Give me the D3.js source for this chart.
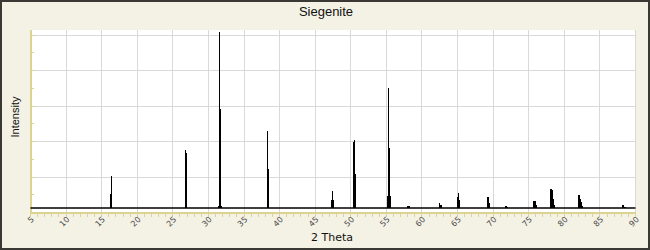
<!DOCTYPE html>
<html>
<head>
<meta charset="utf-8">
<script src="https://cdn.jsdelivr.net/npm/d3@7"></script>
<style>
  body { margin: 0; background: #f4f1e5; }
  #container { width: 650px; height: 250px; }
</style>
</head>
<body>
<div id="container"></div>
<script>
// peak sticks: [2 theta, intensity]
var peaks = [
  [16.25, 10.4], [16.39, 20.6],
  [26.79, 35.2], [26.93, 33.4],
  [31.39, 3.7], [31.53, 101.9], [31.65, 58.1], [31.75, 58.1], [31.86, 3.7],
  [38.32, 45.9], [38.46, 24.5],
  [47.32, 7.0], [47.46, 12.1], [47.6, 7.0],
  [50.42, 39.7], [50.56, 40.8], [50.7, 21.5],
  [55.15, 9.3], [55.3, 70.3], [55.44, 36.2], [55.58, 9.3],
  [58.05, 3.4], [58.19, 3.9],
  [62.51, 5.4], [62.65, 4.4], [62.76, 4.4],
  [64.94, 8.6], [65.08, 11.0], [65.22, 7.0],
  [69.26, 8.7], [69.4, 8.7], [69.54, 5.4],
  [71.72, 3.7], [71.86, 3.7], [72.0, 3.1],
  [75.73, 6.5], [75.87, 6.5], [76.01, 4.2],
  [78.12, 13.2], [78.26, 12.7], [78.4, 7.6], [78.54, 4.2],
  [82.05, 9.9], [82.19, 7.6], [82.33, 5.9], [82.47, 3.7],
  [88.24, 4.2], [88.38, 3.1], [88.52, 3.1]
]
var background = 2.5

var xTicks = d3.range(5, 91, 5)
var xMinor = d3.range(5, 91, 1)
var yTicks = d3.range(20, 101, 20)
var yMinor = d3.range(10, 101, 10)

var title = "Siegenite"
var xTitle = "2 Theta"
var yTitle = "Intensity"

var svg = d3.select("#container").append("svg")
    .attr("width", 650)
    .attr("height", 250)

var x = d3.scaleLinear().domain([5, 90]).range([30.5, 635.5])
var y = d3.scaleLinear().domain([0, 100]).range([212.5, 35])

var axisColour = "#ddd493"

// frame
svg.append("rect")
    .attr("x", 1).attr("y", 1)
    .attr("width", 648).attr("height", 248)
    .attr("fill", "#f4f1e5")
    .attr("stroke", "#3b3934")
    .attr("stroke-width", 2)

// plot area
svg.append("rect")
    .attr("x", x(5)).attr("y", 30)
    .attr("width", x(90) - x(5)).attr("height", y(0) - 30)
    .attr("fill", "#fff")

var grid = svg.append("g")
    .attr("stroke", "#d9d9d9")
    .attr("stroke-width", 1)
    .attr("shape-rendering", "crispEdges")

grid.selectAll(".vx")
    .data(xTicks.filter(function(d) { return d > 5 }))
  .enter().append("line")
    .attr("x1", function(d) { return x(d) }).attr("x2", function(d) { return x(d) })
    .attr("y1", 30).attr("y2", y(0))

grid.selectAll(".hy")
    .data(yTicks)
  .enter().append("line")
    .attr("x1", x(5)).attr("x2", x(90))
    .attr("y1", function(d) { return y(d) }).attr("y2", function(d) { return y(d) })

// axes
var axes = svg.append("g")
    .attr("stroke", axisColour)
    .attr("shape-rendering", "crispEdges")

axes.append("line")
    .attr("x1", x(5)).attr("x2", x(90))
    .attr("y1", y(0)).attr("y2", y(0))
    .attr("stroke-width", 2)

axes.append("line")
    .attr("x1", x(5)).attr("x2", x(5))
    .attr("y1", 30).attr("y2", y(0))
    .attr("stroke-width", 2)

axes.selectAll(".xt")
    .data(xMinor)
  .enter().append("line")
    .attr("x1", function(d) { return x(d) }).attr("x2", function(d) { return x(d) })
    .attr("y1", y(0)).attr("y2", y(0) + 4)

axes.selectAll(".yt")
    .data(yMinor)
  .enter().append("line")
    .attr("x1", x(5)).attr("x2", function(d) { return x(5) + (d % 20 == 0 ? 4 : 3) })
    .attr("y1", function(d) { return y(d) }).attr("y2", function(d) { return y(d) })

// baseline
svg.append("line")
    .attr("x1", x(5)).attr("x2", x(90))
    .attr("y1", y(background)).attr("y2", y(background))
    .attr("stroke", "#000")
    .attr("stroke-width", 1.4)

// sticks
svg.append("g")
    .attr("shape-rendering", "crispEdges")
  .selectAll("line")
    .data(peaks)
  .enter().append("line")
    .attr("x1", function(d) { return x(d[0]) }).attr("x2", function(d) { return x(d[0]) })
    .attr("y1", y(background))
    .attr("y2", function(d) { return y(d[1]) })
    .attr("stroke", "#000")
    .attr("stroke-width", 1.2)

// tick labels
svg.append("g").selectAll("text")
    .data(xTicks)
  .enter().append("text")
    .attr("transform", function(d) { return "translate(" + (x(d) + 2) + ",218) rotate(-45)" })
    .attr("text-anchor", "end")
    .attr("dy", "0.35em")
    .attr("font-family", "DejaVu Sans")
    .attr("font-size", "8px")
    .attr("fill", "#4a4a4a")
    .text(function(d) { return d })

svg.append("text")
    .attr("x", 326).attr("y", 16)
    .attr("text-anchor", "middle")
    .attr("font-family", "Liberation Sans")
    .attr("font-size", "13px")
    .attr("fill", "#111")
    .text(title)

svg.append("text")
    .attr("x", 332).attr("y", 241)
    .attr("text-anchor", "middle")
    .attr("font-family", "DejaVu Sans")
    .attr("font-size", "11px")
    .attr("fill", "#111")
    .text(xTitle)

svg.append("text")
    .attr("transform", "translate(19,117) rotate(-90)")
    .attr("text-anchor", "middle")
    .attr("font-family", "Liberation Sans")
    .attr("font-size", "11px")
    .attr("fill", "#111")
    .text(yTitle)
</script>
</body>
</html>
